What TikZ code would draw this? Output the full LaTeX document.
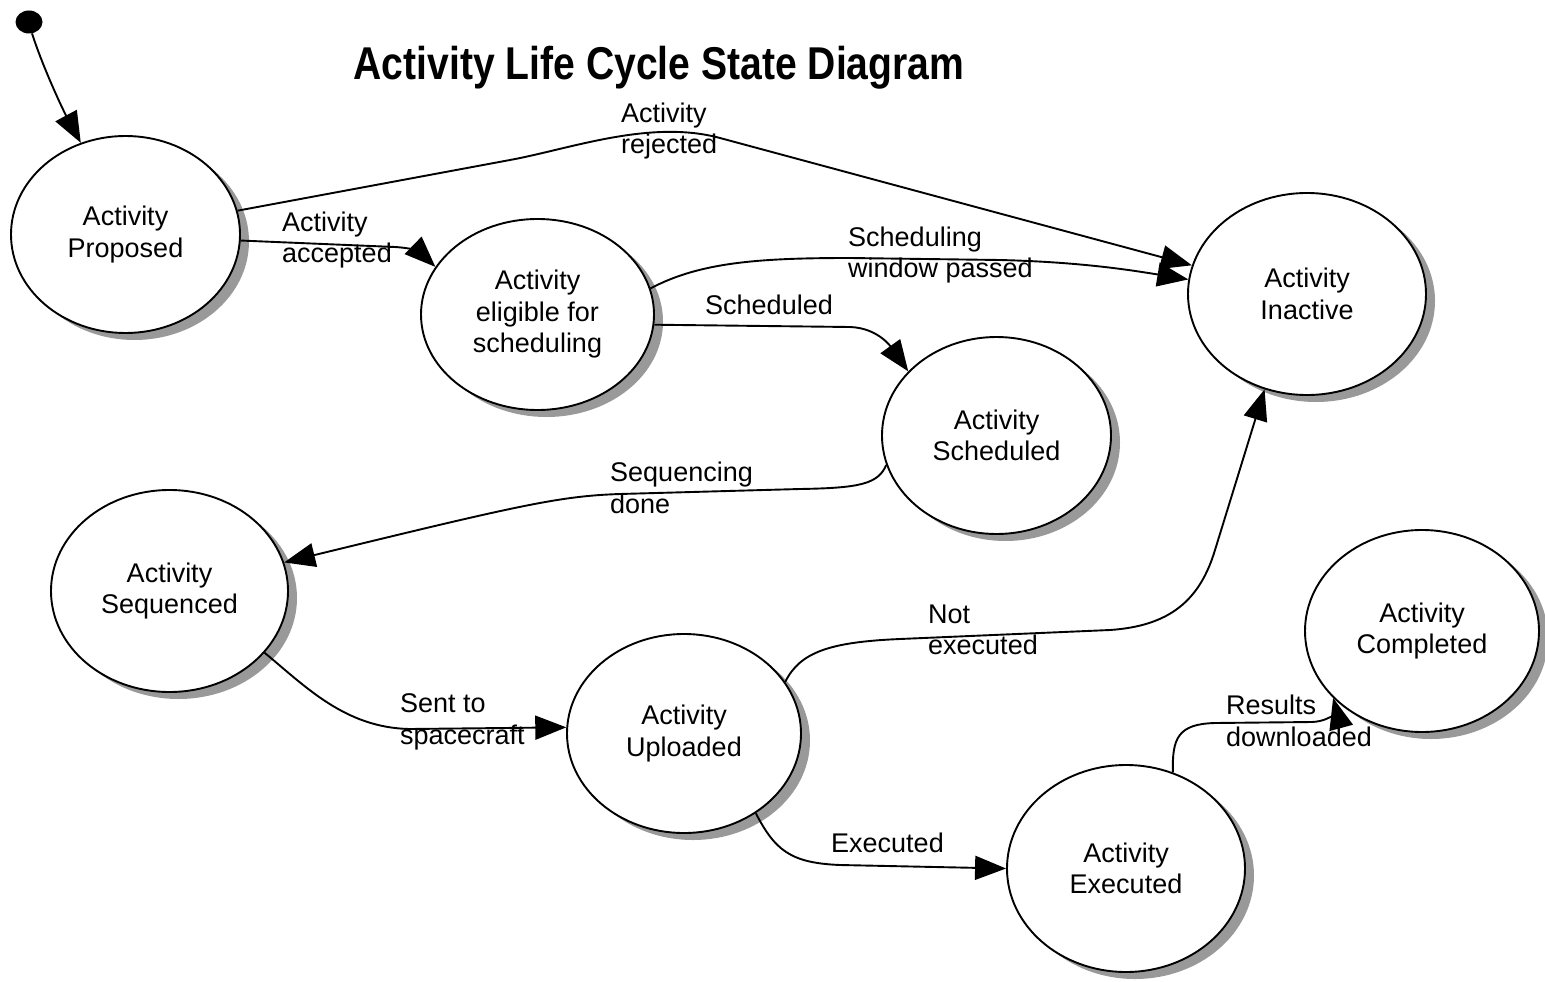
\documentclass[tikz,border=0pt]{standalone}
\usepackage{fontspec}
\setmainfont{Liberation Sans}
\usetikzlibrary{shapes.geometric,arrows.meta,shadows}

\begin{document}
\begin{tikzpicture}[x=1pt,y=-1pt,
  state/.style={ellipse, draw, line width=1.9pt, fill=white, inner sep=0pt,
    align=center, font=\fontsize{27}{31.5}\selectfont,
    drop shadow={shadow xshift=9pt, shadow yshift=-7pt, fill=black!40, opacity=1}},
  trans/.style={line width=1.9pt, -{Triangle[length=31pt,width=24pt]}},
  lbl/.style={anchor=west, inner sep=0pt, align=left,
    font=\fontsize{27}{31.5}\selectfont},
]
\fill[white] (0,0) rectangle (1545,982);
\useasboundingbox (0,0) rectangle (1545,982);

% title
\node[anchor=base, inner sep=0pt] (title) at (659,80)
  {\scalebox{0.85}[1]{\fontsize{46}{50}\selectfont\bfseries Activity Life Cycle State Diagram}};

% initial state
\node[ellipse, fill=black, inner sep=0pt, minimum width=27, minimum height=23] (init) at (29,22) {};

% states
\node[state, minimum width=229, minimum height=197] (prop)  at (125.5,234.5) {Activity\\Proposed};
\node[state, minimum width=233, minimum height=191] (elig)  at (537.5,314.5) {Activity\\eligible for\\scheduling};
\node[state, minimum width=229, minimum height=197] (sched) at (996.5,435.5) {Activity\\Scheduled};
\node[state, minimum width=238, minimum height=202] (inact) at (1307,294)    {Activity\\Inactive};
\node[state, minimum width=237, minimum height=202] (seq)   at (169.5,591)   {Activity\\Sequenced};
\node[state, minimum width=234, minimum height=199] (upl)   at (684,733.5)   {Activity\\Uploaded};
\node[state, minimum width=238, minimum height=207] (exec)  at (1126,868.5)  {Activity\\Executed};
\node[state, minimum width=234, minimum height=202] (comp)  at (1422,631)    {Activity\\Completed};

% transitions
\draw[trans] (init.-75) .. controls (42,65) and (62,108) .. (prop.116);
\draw[trans] (prop.12.5) -- (510,160) .. controls (570,149) and (650,119) .. (720,138) -- (inact.166.7);
\draw[trans] (prop.-3.7) -- (395,247) .. controls (412,248) and (420,252) .. (elig.155);
\draw[trans] (elig.13.7) .. controls (700,262) and (760,258) .. (850,258) -- (1000,260)
  .. controls (1080,262) and (1130,270) .. (inact.173.2);
\draw[trans] (elig.-5) -- (850,327) .. controls (880,328) and (893,350) .. (sched.144.6);
\draw[trans] (sched.-165) .. controls (878,484) and (860,488) .. (800,489) -- (620,494)
  .. controls (560,496) and (520,505) .. (seq.14.5);
\draw[trans] (seq.-33.8) .. controls (305,686) and (345,728) .. (410,729) -- (upl.177.8);
\draw[trans] (upl.27) .. controls (800,652) and (830,642) .. (900,639) -- (1110,630)
  .. controls (1170,626) and (1200,600) .. (1215,550) -- (inact.-114);
\draw[trans] (upl.-48.2) .. controls (775,850) and (790,863) .. (840,865) -- (exec.180);
\draw[trans] (exec.64.3) .. controls (1172,738) and (1178,724) .. (1215,723) -- (1312,722)
  .. controls (1335,721) and (1335,705) .. (comp.-143.6);

% transition labels
\node[lbl] (lrej)  at (621,131)   {Activity\\rejected};
\node[lbl] (lacc)  at (282,240)   {Activity\\accepted};
\node[lbl] (lwin)  at (848,255)   {Scheduling\\window passed};
\node[lbl] (lsch)  at (705,305)   {Scheduled};
\node[lbl] (lseq)  at (610,488)   {Sequencing\\done};
\node[lbl] (lsent) at (400,722)   {Sent to\\spacecraft};
\node[lbl] (lnot)  at (928,630)   {Not\\executed};
\node[lbl] (lexe)  at (831,843)   {Executed};
\node[lbl] (lres)  at (1226,721)  {Results\\downloaded};
\end{tikzpicture}
\end{document}
